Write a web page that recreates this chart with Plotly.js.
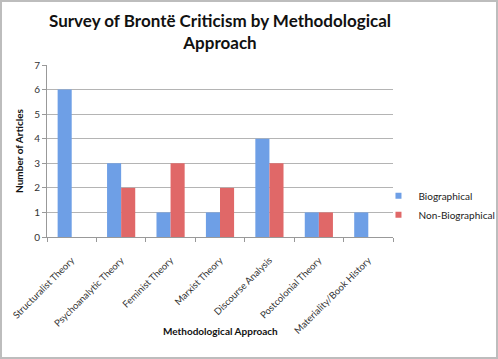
<!DOCTYPE html>
<html>
<head>
<meta charset="utf-8">
<script src="https://cdn.plot.ly/plotly-3.0.1.min.js"></script>
<style>
html,body{margin:0;padding:0;background:#fff;}
#wrap{position:relative;width:498px;height:359px;}
#chart{width:498px;height:359px;}
#frame{position:absolute;left:0;top:0;width:498px;height:359px;box-sizing:border-box;border:2px solid #bdbdbd;pointer-events:none;}
</style>
</head>
<body>
<div id="wrap"><div id="chart"></div><div id="frame"></div></div>
<script>
const categories = ["Structuralist Theory","Psychoanalytic Theory","Feminist Theory","Marxist Theory","Discourse Analysis","Postcolonial Theory","Materiality/Book History"];
const biographical = [6,3,1,1,4,1,1];
const nonBiographical = [0,2,3,2,3,1,0];
const yTicks = [0,1,2,3,4,5,6,7];
const seriesNames = ["Biographical","Non-Biographical"];
const seriesColors = ["#6e9fe6","#e06868"];

const font = "Lato, 'Open Sans', sans-serif";
const data = [
  {type:'bar', name:seriesNames[0], x:categories, y:biographical, showlegend:false,
   marker:{color:seriesColors[0], line:{width:0}}},
  {type:'bar', name:seriesNames[1], x:categories, y:nonBiographical, showlegend:false,
   marker:{color:seriesColors[1], line:{width:0}}},
  {type:'scatter', mode:'markers', name:seriesNames[0], x:[null], y:[null],
   marker:{symbol:'square', size:6, color:seriesColors[0]}},
  {type:'scatter', mode:'markers', name:seriesNames[1], x:[null], y:[null],
   marker:{symbol:'square', size:6, color:seriesColors[1]}}
];
const layout = {
  width:498, height:359,
  margin:{l:47, r:105, t:65, b:122, autoexpand:false},
  paper_bgcolor:'#fff', plot_bgcolor:'#fff',
  font:{family:font, color:'#222', size:10},
  title:{text:'<b>Survey of Brontë Criticism by Methodological<br>Approach</b>',
         x:0.5, xref:'paper', xanchor:'center', yref:'container', y:0.925, yanchor:'middle',
         font:{family:font, size:17, color:'#111'}},
  bargap:0.43, bargroupgap:0,
  showlegend:true,
  legend:{xref:'container', yref:'container', x:0.76, xanchor:'left', y:0.428, yanchor:'middle',
          font:{family:font, size:10, color:'#222'}, itemwidth:30, bgcolor:'rgba(0,0,0,0)'},
  annotations:[{text:'<b>Methodological Approach</b>', xref:'paper', x:0.5, xanchor:'center',
                yref:'paper', y:-0.5465, yanchor:'middle', showarrow:false,
                font:{family:font, size:10, color:'#111'}}],
  xaxis:{type:'category', showline:true, linecolor:'#999', linewidth:1,
         ticks:'outside', tickson:'boundaries', ticklen:4, tickcolor:'#999',
         tickangle:-45, tickfont:{family:font, size:9.5, color:'#333'},
         ticklabelstandoff:13, showgrid:false},
  yaxis:{range:[0,7], tickvals:yTicks, showline:true, linecolor:'#999', linewidth:1,
         ticks:'outside', ticklen:4, tickcolor:'#999',
         showgrid:true, gridcolor:'#b4b4b4', gridwidth:1, zeroline:false,
         tickfont:{family:font, size:10, color:'#333'},
         title:{text:'<b>Number of Articles</b>', font:{family:font, size:10, color:'#111'}, standoff:8}}
};
Plotly.newPlot('chart', data, layout, {displayModeBar:false, staticPlot:true});
</script>
</body>
</html>
